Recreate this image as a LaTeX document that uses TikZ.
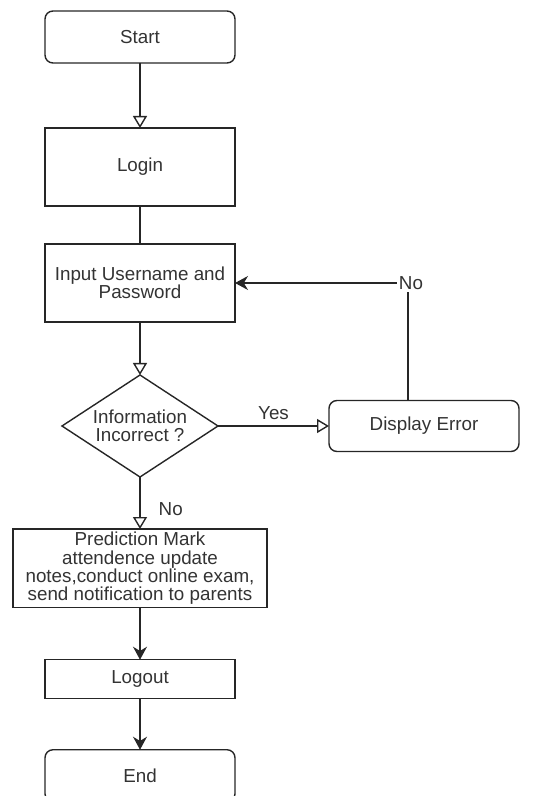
\documentclass[tikz,border=0pt]{standalone}
\usepackage{fontspec}
\setmainfont{Liberation Sans}
\usetikzlibrary{positioning,shapes.geometric,arrows.meta}

\begin{document}
\begin{tikzpicture}[node distance=26pt, font=\fontsize{9.4}{9.2}\selectfont, line width=0.7pt]
  \tikzstyle{terminal} = [rectangle, rounded corners=4pt, minimum width=95pt, minimum height=26pt, outer sep=0pt, text centered, text=black!80, draw=black!85]
  \tikzstyle{process} = [rectangle, minimum width=95pt, minimum height=39pt, outer sep=0pt, text centered, align=center, text=black!80, draw=black!85]
  \tikzstyle{decision} = [diamond, aspect=1.53, minimum width=78pt, minimum height=51pt, inner sep=0pt, outer sep=0pt, align=center, text=black!80, draw=black!85]
  \tikzstyle{label} = [text=black!80, inner sep=1pt]
  \tikzstyle{openarrow} = [draw=black!85, -{Triangle[open,length=6pt,width=7pt]}]
  \tikzstyle{arrow} = [draw=black!85, -{Stealth[length=6.5pt,width=7pt]}]

  \useasboundingbox (0,0) rectangle (270.5pt,-398pt);

  \node (start) [terminal] at (70pt,-18.5pt) {Start};
  \node (login) [process, below=32.5pt of start] {Login};
  \node (input) [process, below=19pt of login] {Input Username and\\Password};
  \node (check) [decision, below=26.5pt of input] {Information\\Incorrect ?};
  \node (error) [terminal, right=55.5pt of check, minimum height=25.5pt] {Display Error};
  \node (tasks) [process, below=26pt of check, minimum width=127pt, inner sep=1.5pt] {Prediction Mark\\attendence update\\notes,conduct online exam,\\send notification to parents};
  \node (logout) [process, below=26pt of tasks, minimum height=19.5pt] {Logout};
  \node (end) [terminal, below=25.5pt of logout] {End};

  \coordinate (back) at ([xshift=-8pt]error.north |- input.east);

  \draw [openarrow] (start) -- (login);
  \draw [draw=black!85] (login) -- (input);
  \draw [openarrow] (input) -- (check);
  \draw [openarrow] (check) -- node (yes) [label, above, inner sep=3pt] {Yes} (error);
  \draw [openarrow] (check) -- node (no-down) [label, pos=0.62, right, xshift=8pt] {No} (tasks);
  \draw [arrow] ([xshift=-8pt]error.north) -- (back) -- (input.east);
  \node (no-back) [label, fill=white, xshift=1.5pt] at (back) {No};
  \draw [arrow] (tasks) -- (logout);
  \draw [arrow] (logout) -- (end);
\end{tikzpicture}
\end{document}
